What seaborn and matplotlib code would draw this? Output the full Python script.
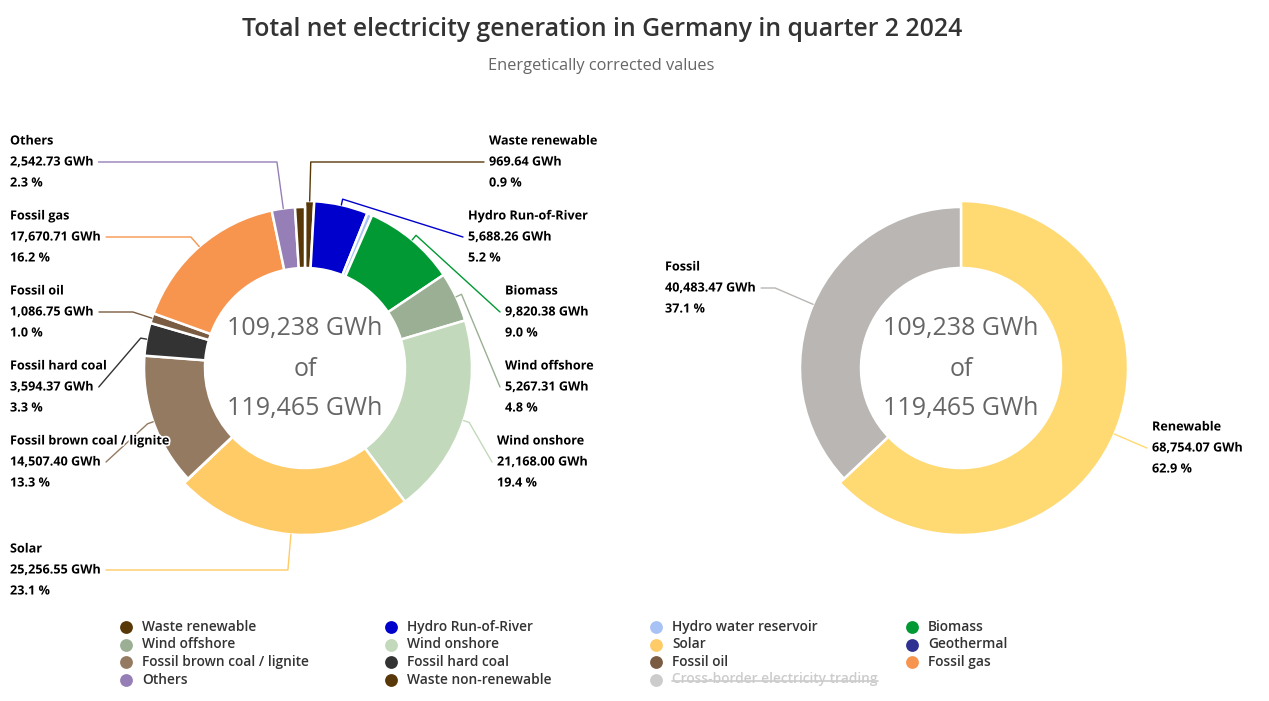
import numpy as np
import matplotlib
matplotlib.use("Agg")
import matplotlib.pyplot as plt
import matplotlib.patheffects as pe
import seaborn as sns

# --- data (GWh, quarter 2 2024) ---
categories = ["Waste renewable", "Hydro Run-of-River", "Hydro water reservoir", "Biomass",
              "Wind offshore", "Wind onshore", "Solar", "Geothermal",
              "Fossil brown coal / lignite", "Fossil hard coal", "Fossil oil", "Fossil gas",
              "Others", "Waste non-renewable"]
values = [969.64, 5688.26, 545.0, 9820.38, 5267.31, 21168.00, 25256.55, 39.0,
          14507.40, 3594.37, 1086.75, 17670.71, 2542.73, 1081.51]
is_renewable = [True] * 8 + [False] * 6
colors = ["#583808", "#0000CC", "#A9C2F5", "#009933", "#9AAF93", "#C3D9BB", "#FFCB66", "#2E3092",
          "#957A62", "#333333", "#7A5C42", "#F7954F", "#967FB6", "#583808"]

group_names = ["Renewable", "Fossil"]
group_values = [68754.07, 40483.47]
group_colors = ["#FFD972", "#B9B6B3"]

total_net = 109238
total_all = 119465
hidden_name = "Cross-border electricity trading"
hidden_color = "#CCCCCC"

# label layout in pixels: name -> (x, y of first line, side)
left_labels = {
    "Others": (10, 141, "left"), "Fossil gas": (10, 216, "left"),
    "Fossil oil": (10, 291, "left"), "Fossil hard coal": (10, 366, "left"),
    "Fossil brown coal / lignite": (10, 441, "left"), "Solar": (10, 549, "left"),
    "Waste renewable": (489, 141, "right"), "Hydro Run-of-River": (468, 216, "right"),
    "Biomass": (505, 291, "right"), "Wind offshore": (505, 366, "right"),
    "Wind onshore": (497, 441, "right"),
}
right_labels = {"Fossil": (665, 267, "left"), "Renewable": (1152, 427, "right")}

W, H = 1269, 701
sns.set_theme(style="white")
plt.rcParams['font.family'] = ['Open Sans', 'DejaVu Sans']

fig = plt.figure(figsize=(W / 100, H / 100), dpi=100)
ax = fig.add_axes([0, 0, 1, 1])

R_REN, R_FOS, R_IN = 167, 161, 100


def donut(values, colors, center, renew):
    wedges, _ = ax.pie(values, colors=colors, center=center, radius=R_REN,
                       startangle=-90, counterclock=True,
                       wedgeprops=dict(width=R_REN - R_IN, edgecolor="white", linewidth=1.8))
    for w, ren in zip(wedges, renew):
        if not ren:
            w.set_radius(R_FOS)
            w.set_width(R_FOS - R_IN)
    return wedges


left_c = (305, 368)
right_c = (961, 368)
wl = donut(values, colors, left_c, is_renewable)
wr = donut(group_values, group_colors, right_c, [True, False])

ax.set_xlim(0, W)
ax.set_ylim(H, 0)
ax.set_aspect("auto")
ax.axis("off")

fig.canvas.draw()
renderer = fig.canvas.get_renderer()
inv = ax.transData.inverted()

lbl_kw = dict(fontsize=9.1, fontweight="bold", color="#000000", va="center", ha="left", zorder=5,
              path_effects=[pe.withStroke(linewidth=2.5, foreground="white")])


def label(name, val, total, wedge, color, pos, center):
    x, y, side = pos
    ax.text(x, y, name, **lbl_kw)
    tv = ax.text(x, y + 21, f"{val:,.2f} GWh", **lbl_kw)
    ax.text(x, y + 42, f"{val / total * 100:.1f} %", **lbl_kw)
    ly = y + 21
    if side == "left":
        bb = tv.get_window_extent(renderer)
        lx = inv.transform((bb.x1, bb.y0))[0] + 5
    else:
        lx = x - 5
    cx, cy = center
    r = wedge.r
    t = np.deg2rad((wedge.theta1 + wedge.theta2) / 2)
    ca, sa = np.cos(t), np.sin(t)
    touch = (cx + r * ca, cy + r * sa)
    brk = (cx + (r + 6) * ca, cy + (r + 6) * sa)
    pts = [(lx, ly)]
    if abs(sa) > 1e-6:
        crook = cx + (ly - cy) * ca / sa
        if side == "right" and brk[0] <= crook <= lx:
            pts.append((crook, ly))
        if side == "left" and lx <= crook <= brk[0]:
            pts.append((crook, ly))
    pts += [brk, touch]
    px, py = zip(*pts)
    ax.plot(px, py, color=color, lw=1, zorder=3)


for name, val, w, c in zip(categories, values, wl, colors):
    if name in left_labels:
        label(name, val, total_net, w, c, left_labels[name], left_c)
for name, val, w, c in zip(group_names, group_values, wr, group_colors):
    label(name, val, total_net, w, c, right_labels[name], right_c)

# center totals
for cx in (left_c[0], right_c[0]):
    for dy, s in zip((-39, 1, 40), (f"{total_net:,} GWh", "of", f"{total_all:,} GWh")):
        ax.text(cx, 368 + dy, s, fontsize=18, color="#666666", ha="center", va="center")

# title
ax.text(602, 30, "Total net electricity generation in Germany in quarter 2 2024", fontsize=17.8,
        fontweight="semibold", color="#333333", ha="center", va="center")
ax.text(601, 66, "Energetically corrected values", fontsize=11.8, color="#666666",
        ha="center", va="center")

# legend
leg_names = categories + [hidden_name]
leg_colors = colors + [hidden_color]
col_x = [126, 391, 656, 912]
row_y = [627, 644.5, 662, 679.5]
for i, (n, c) in enumerate(zip(leg_names, leg_colors)):
    x, y = col_x[i % 4], row_y[i // 4]
    ax.scatter([x], [y], s=85, color=c, zorder=4, linewidths=0)
    tc = "#CCCCCC" if n == hidden_name else "#333333"
    t = ax.text(x + 16, y, n, fontsize=9.9, fontweight="semibold", color=tc, ha="left", va="center")
    if n == hidden_name:
        bb = t.get_window_extent(renderer)
        x1 = inv.transform((bb.x1, bb.y0))[0]
        ax.plot([x + 16, x1], [y + 1, y + 1], color=tc, lw=1.2)

fig.savefig("out.png", dpi=100, facecolor="white")
